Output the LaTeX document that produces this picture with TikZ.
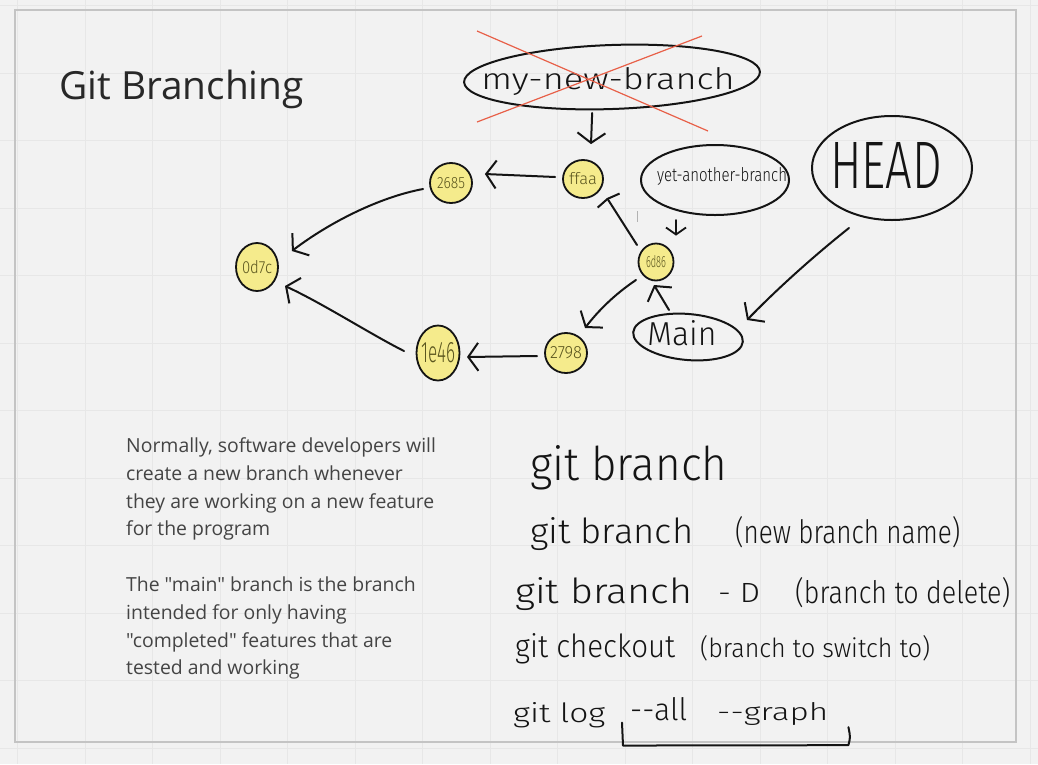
\documentclass[tikz,border=0pt]{standalone}
\usepackage{fontspec}
\usepackage{graphicx}
\setmainfont{Open Sans}
\newfontfamily\bodyfont{Open Sans}
\IfFontExistsTF{Fira Sans Light}{\newfontfamily\hand{Fira Sans Light}}{\newfontfamily\hand{Liberation Sans}}
\usetikzlibrary{arrows.meta,calc,shapes.geometric}
\definecolor{bg}{RGB}{242,242,242}
\definecolor{gridc}{RGB}{231,231,231}
\definecolor{framec}{RGB}{196,196,196}
\definecolor{ink}{RGB}{20,20,20}
\definecolor{cyel}{RGB}{245,235,140}
\definecolor{clbl}{RGB}{90,85,30}
\definecolor{xred}{RGB}{232,96,72}
\definecolor{bodyc}{RGB}{68,68,68}
\definecolor{titlec}{RGB}{40,40,40}
\newcommand\hw[3]{\resizebox{#1pt}{#2pt}{\hand #3}}
\tikzset{
  commit/.style={ellipse, draw=ink, line width=1.8pt, fill=cyel, inner sep=0pt},
  bubble/.style={ellipse, draw=ink, line width=2pt, inner sep=0pt},
  clabel/.style={inner sep=0pt, text=clbl},
  blabel/.style={inner sep=0pt, text=ink},
  handtxt/.style={anchor=base west, inner sep=0pt, text=ink},
  body/.style={anchor=base west, inner sep=0pt, font=\bodyfont\fontsize{19.4}{22}\selectfont, text=bodyc},
  harrow/.style={draw=ink, line width=2pt, line cap=round, line join=round, -{Straight Barb[length=10pt,width=28pt]}},
  smallarrow/.style={draw=ink, line width=1.8pt, line cap=round, -{Straight Barb[length=7pt,width=20pt]}},
  teearrow/.style={draw=ink, line width=2pt, line cap=round, -{Straight Barb[length=2pt,width=26pt]}},
  xline/.style={draw=xred, line width=1.2pt},
  handline/.style={draw=ink, line width=2pt, line cap=round, line join=round},
  gridline/.style={draw=gridc, line width=1pt}
}
\begin{document}
\begin{tikzpicture}[x=1pt,y=-1pt]
\useasboundingbox (0,0) rectangle (1038,764);
\fill[bg] (0,0) rectangle (1038,764);
\foreach \i in {0,...,15} \draw[gridline] ({17.5+67.5*\i},0) -- ({17.5+67.5*\i},764);
\foreach \j in {0,...,11} \draw[gridline] (0,{5.5+67.5*\j}) -- (1038,{5.5+67.5*\j});
\draw[draw=framec, line width=1.2pt] (15,10) rectangle (1016,742);

% title
\node[anchor=base west, inner sep=0pt, font=\fontsize{38.8}{44}\selectfont, text=titlec] (title) at (59,99) {Git Branching};

% commits
\node[commit, minimum width=42pt, minimum height=48pt, label={[clabel]center:\hw{30}{13}{0d7c}}] (c0d7c) at (257,267) {};
\node[commit, minimum width=42pt, minimum height=40pt, label={[clabel]center:\hw{28}{11}{2685}}] (c2685) at (451,183) {};
\node[commit, minimum width=40pt, minimum height=38pt, label={[clabel]center:\hw{28}{12}{ffaa}}] (cffaa) at (583,179) {};
\node[commit, minimum width=35pt, minimum height=37pt, label={[clabel]center:\hw{20}{12}{6d86}}] (c6d86) at (656,262) {};
\node[commit, minimum width=42pt, minimum height=40pt, label={[clabel]center:\hw{32}{12}{2798}}] (c2798) at (566,353) {};
\node[commit, minimum width=43pt, minimum height=55pt, label={[clabel]center:\hw{34}{20}{1e46}}] (c1e46) at (438,353) {};

% branch / HEAD bubbles
\node[bubble, minimum width=296pt, minimum height=64pt, rotate=2, label={[blabel, yshift=-5pt, xshift=-4pt]center:\hw{253}{22}{my-new-branch}}] (bmy) at (612,77) {};
\node[bubble, minimum width=148pt, minimum height=70pt, label={[blabel, xshift=7pt, yshift=4pt]center:\hw{130}{14}{yet-another-branch}}] (byet) at (715,180) {};
\node[bubble, minimum width=160pt, minimum height=104pt, label={[blabel, xshift=-6pt, yshift=3pt]center:\hw{112}{46}{HEAD}}] (bhead) at (892,168) {};
\node[bubble, minimum width=110pt, minimum height=46pt, rotate=-5, label={[blabel, xshift=-6pt, yshift=4pt]center:\hw{69}{25}{Main}}] (bmain) at (688,337) {};

% cross-out
\draw[xline] ($(bmy.center)+(-135,-46)$) -- ($(bmy.center)+(96,54)$);
\draw[xline] ($(bmy.center)+(-135,45)$) -- ($(bmy.center)+(90,-41)$);

% connectors
\draw[harrow] ($(bmy.south)+(-21,3)$) -- ($(cffaa.north)+(8,-15)$);
\draw[harrow] ($(cffaa.west)+(-7,-2)$) -- ($(c2685.east)+(12,-9)$);
\draw[harrow] ($(c2685.west)+(-6,6)$) .. controls (380,197) and (330,222) .. ($(c0d7c.east)+(13,-16)$);
\draw[teearrow] ($(c6d86.center)+(-19,-17)$) -- ($(cffaa.center)+(24,19)$);
\draw[smallarrow] ($(byet.south)+(-39,4)$) -- ($(c6d86.north)+(20,-7)$);
\draw[harrow] ($(c6d86.center)+(-20,18)$) .. controls (615,294) and (598,311) .. ($(c2798.center)+(19,-25)$);
\draw[harrow] ($(bmain.center)+(-19,-27)$) -- ($(c6d86.center)+(-2,23)$);
\draw[harrow] ($(bhead.center)+(-43,60)$) .. controls (815,255) and (778,288) .. ($(bmain.center)+(59,-17)$);
\draw[harrow] ($(c2798.center)+(-29,3)$) -- ($(c1e46.center)+(29,4)$);
\draw[harrow] ($(c1e46.center)+(-34,-2)$) .. controls (372,335) and (322,303) .. ($(c0d7c.center)+(28,19)$);
\draw[draw=gray!60, line width=1pt] (637,211) -- (637,222);

% body text
\node[body] (b1) at (126,452) {Normally, software developers will};
\node[body] (b2) at (126,480) {create a new branch whenever};
\node[body] (b3) at (126,508) {they are working on a new feature};
\node[body] (b4) at (126,535) {for the program};
\node[body] (b5) at (126,591) {The "main" branch is the branch};
\node[body] (b6) at (126,619) {intended for only having};
\node[body] (b7) at (126,647) {"completed" features that are};
\node[body] (b8) at (126,674) {tested and working};

% handwritten commands
\node[handtxt] (h1) at (530,480) {\hw{197}{35}{git branch}};
\node[handtxt] (h2a) at (530,543) {\hw{163}{26}{git branch}};
\node[handtxt] (h2b) at (735,543) {\hw{225}{27}{(new branch name)}};
\node[handtxt] (h3a) at (515,603) {\hw{177}{26}{git branch}};
\node[handtxt] (h3b) at (718,602) {\hw{42}{19}{- D}};
\node[handtxt] (h3c) at (795,603) {\hw{215}{26}{(branch to delete)}};
\node[handtxt] (h4a) at (515,657) {\hw{160}{24}{git checkout}};
\node[handtxt] (h4b) at (700,657) {\hw{230}{22}{(branch to switch to)}};
\node[handtxt] (h5a) at (513,722) {\hw{92}{20}{git log}};
\node[handtxt] (h5b) at (630,720) {\hw{57}{23}{-{}-all}};
\node[handtxt] (h5c) at (717,720) {\hw{111}{18}{-{}-graph}};
\draw[handline] ($(h5b.south west)+(-8,2)$) -- ($(h5b.south west)+(-7,25)$) -- ($(h5c.south east)+(20,20)$) .. controls ($(h5c.south east)+(22,12)$) .. ($(h5c.south east)+(20,2)$);
\end{tikzpicture}
\end{document}
